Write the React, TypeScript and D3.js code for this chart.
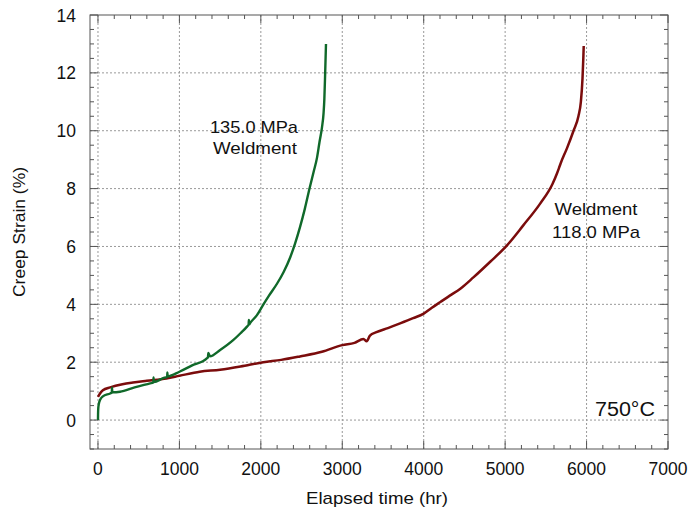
import React from "react";
import * as d3 from "d3";

const xTicks = [0, 1000, 2000, 3000, 4000, 5000, 6000, 7000];
const yTicks = [0, 2, 4, 6, 8, 10, 12, 14];

const greenTime = [0, 1, 3, 10, 30, 60, 150, 170, 172, 176, 270, 450, 640, 680, 682, 686, 800, 850, 852, 856, 1000, 1150, 1340, 1350, 1356, 1375, 1500, 1660, 1750, 1830, 1850, 1853, 1858, 1870, 1950, 2030, 2100, 2200, 2280, 2360, 2420, 2480, 2540, 2600, 2650, 2690, 2720, 2750, 2770, 2780, 2790, 2800];
const greenStrain = [0, 0.2, 0.38, 0.55, 0.72, 0.82, 0.92, 0.95, 1.12, 0.96, 0.98, 1.13, 1.27, 1.3, 1.47, 1.31, 1.45, 1.5, 1.65, 1.51, 1.67, 1.88, 2.14, 2.17, 2.32, 2.2, 2.42, 2.76, 3.0, 3.23, 3.3, 3.46, 3.31, 3.36, 3.62, 3.99, 4.3, 4.72, 5.12, 5.62, 6.1, 6.66, 7.3, 8.03, 8.6, 9.07, 9.6, 10.1, 10.6, 11.1, 12.0, 13.0];

const redTime = [0, 25, 60, 150, 300, 430, 600, 840, 1000, 1250, 1500, 1750, 2030, 2250, 2480, 2750, 3000, 3150, 3260, 3300, 3340, 3420, 3560, 3710, 3870, 4000, 4100, 4200, 4320, 4450, 4610, 4820, 5020, 5220, 5430, 5580, 5640, 5660, 5680, 5760, 5840, 5900, 5930, 5950, 5960, 5965];
const redStrain = [0.8, 0.92, 1.03, 1.13, 1.24, 1.3, 1.36, 1.44, 1.53, 1.67, 1.74, 1.85, 2.0, 2.08, 2.2, 2.36, 2.59, 2.67, 2.8, 2.72, 2.92, 3.04, 3.18, 3.34, 3.52, 3.68, 3.88, 4.07, 4.3, 4.54, 4.93, 5.48, 6.03, 6.72, 7.48, 8.15, 8.55, 8.7, 8.86, 9.4, 10.0, 10.5, 11.0, 11.8, 12.5, 12.93];

const W = 690, H = 510;
const L = 90, R = 668, T = 15, B = 449;
const FONT = "'Liberation Sans', Arial, sans-serif";

export default function App() {
  const x = d3.scaleLinear().domain([-98, 7000]).range([L, R]);
  const y = d3.scaleLinear().domain([-1, 14]).range([B, T]);
  const line = d3.line<[number, number]>().x(d => x(d[0])).y(d => y(d[1])).curve(d3.curveMonotoneX);
  const green = greenTime.map((t, i) => [t, greenStrain[i]] as [number, number]);
  const red = redTime.map((t, i) => [t, redStrain[i]] as [number, number]);
  const xMinor = d3.range(0, 7001, 200);
  const yMinor = d3.range(-1, 14.01, 0.5);
  return (
    <div style={{ position: "absolute", left: 0, top: 0 }}>
      <svg width={W} height={H} style={{ display: "block", background: "#fff" }}>
        {xTicks.filter(t => t < 7000).map(t => (
          <line key={"gx" + t} x1={x(t)} x2={x(t)} y1={T} y2={B} stroke="#999" strokeWidth={1} strokeDasharray="2,2" />
        ))}
        {yTicks.filter(t => t < 14).map(t => (
          <line key={"gy" + t} x1={L} x2={R} y1={y(t)} y2={y(t)} stroke="#999" strokeWidth={1} strokeDasharray="2,2" />
        ))}
        {xMinor.map(t => {
          const major = t % 1000 === 0;
          const len = major ? 8 : 4;
          return (
            <g key={"xm" + t}>
              <line x1={x(t)} x2={x(t)} y1={B} y2={B - len} stroke="#555" />
              <line x1={x(t)} x2={x(t)} y1={T} y2={T + len} stroke="#555" />
            </g>
          );
        })}
        {yMinor.map(v => {
          const major = Math.abs(v % 2) < 1e-6 && v >= 0;
          const len = major ? 8 : 4;
          return (
            <g key={"ym" + v}>
              <line x1={L} x2={L + len} y1={y(v)} y2={y(v)} stroke="#555" />
              <line x1={R} x2={R - len} y1={y(v)} y2={y(v)} stroke="#555" />
            </g>
          );
        })}
        <rect x={L} y={T} width={R - L} height={B - T} fill="none" stroke="#555" strokeWidth={1} />
        <path d={line(red) || ""} fill="none" stroke="#7b0c0c" strokeWidth={2.5} strokeLinejoin="round" />
        <path d={line(green) || ""} fill="none" stroke="#10692a" strokeWidth={2.4} strokeLinejoin="round" />
        {xTicks.map(t => (
          <text key={"xl" + t} x={x(t)} y={475} textAnchor="middle" fontFamily={FONT} fontSize={17.5} fill="#111">{t}</text>
        ))}
        {yTicks.map(t => (
          <text key={"yl" + t} x={76} y={y(t) + 6.5} textAnchor="end" fontFamily={FONT} fontSize={17.5} fill="#111">{t}</text>
        ))}
        <text x={377} y={504} textAnchor="middle" fontFamily={FONT} fontSize={17} textLength={142} lengthAdjust="spacingAndGlyphs" fill="#111">Elapsed time (hr)</text>
        <text transform={`translate(25,232) rotate(-90)`} textAnchor="middle" fontFamily={FONT} fontSize={16} textLength={130} lengthAdjust="spacingAndGlyphs" fill="#111">Creep Strain (%)</text>
        <text x={254} y={133} textAnchor="middle" fontFamily={FONT} fontSize={17} textLength={88} lengthAdjust="spacingAndGlyphs" fill="#111">135.0 MPa</text>
        <text x={255} y={154} textAnchor="middle" fontFamily={FONT} fontSize={17} textLength={84} lengthAdjust="spacingAndGlyphs" fill="#111">Weldment</text>
        <text x={596} y={215} textAnchor="middle" fontFamily={FONT} fontSize={17} textLength={83} lengthAdjust="spacingAndGlyphs" fill="#111">Weldment</text>
        <text x={596} y={238} textAnchor="middle" fontFamily={FONT} fontSize={17} textLength={88} lengthAdjust="spacingAndGlyphs" fill="#111">118.0 MPa</text>
        <text x={625} y={416} textAnchor="middle" fontFamily={FONT} fontSize={19.5} textLength={60} lengthAdjust="spacingAndGlyphs" fill="#111">750°C</text>
      </svg>
    </div>
  );
}
